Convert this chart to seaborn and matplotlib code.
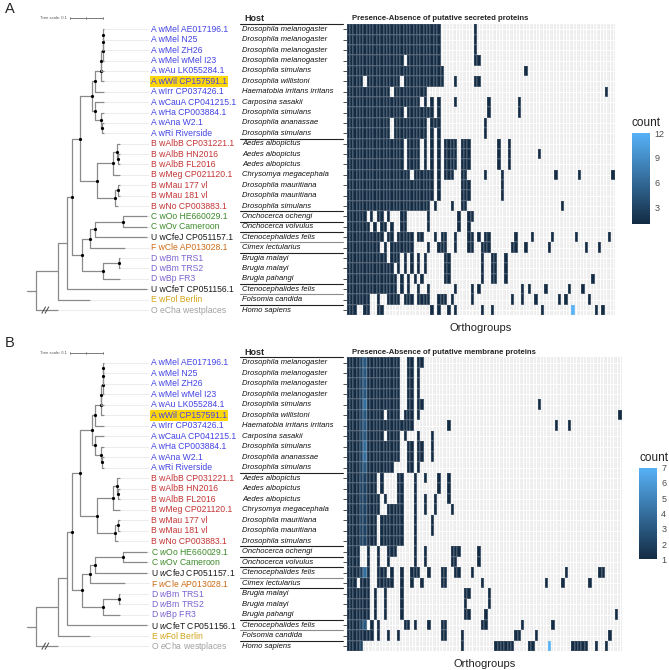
import numpy as np
import pandas as pd
import seaborn as sns
import matplotlib.pyplot as plt
from matplotlib.colors import LinearSegmentedColormap

# tree tips, top to bottom
strains = ['A wMel AE017196.1', 'A wMel N25', 'A wMel ZH26', 'A wMel wMel I23',
           'A wAu LK055284.1', 'A wWil CP157591.1', 'A wIrr CP037426.1',
           'A wCauA CP041215.1', 'A wHa CP003884.1', 'A wAna W2.1', 'A wRi Riverside',
           'B wAlbB CP031221.1', 'B wAlbB HN2016', 'B wAlbB FL2016', 'B wMeg CP021120.1',
           'B wMau 177 vl', 'B wMau 181 vl', 'B wNo CP003883.1',
           'C wOo HE660029.1', 'C wOv Cameroon', 'U wCfeJ CP051157.1', 'F wCle AP013028.1',
           'D wBm TRS1', 'D wBm TRS2', 'D wBp FR3', 'U wCfeT CP051156.1',
           'E wFol Berlin', 'O eCha westplaces']
hosts = ['Drosophila melanogaster'] * 4 + [
    'Drosophila simulans', 'Drosophila willistoni', 'Haematobia irritans irritans',
    'Carposina sasakii', 'Drosophila simulans', 'Drosophila ananassae', 'Drosophila simulans',
    'Aedes albopictus', 'Aedes albopictus', 'Aedes albopictus', 'Chrysomya megacephala',
    'Drosophila mauritiana', 'Drosophila mauritiana', 'Drosophila simulans',
    'Onchocerca ochengi', 'Onchocerca volvulus', 'Ctenocephalides felis', 'Cimex lectularius',
    'Brugia malayi', 'Brugia malayi', 'Brugia pahangi', 'Ctenocephalides felis',
    'Folsomia candida', 'Homo sapiens']
highlight = 'A wWil CP157591.1'
underlined = [10, 17, 18, 19, 20, 21, 24, 25, 26]
clade_colors = {'A': '#4343E4', 'B': '#C43434', 'C': '#3D8A2A', 'U': '#1a1a1a',
                'F': '#D06A14', 'D': '#7A62CF', 'E': '#D2A419', 'O': '#A0A0A0'}

# phylogeny (branch lengths in substitutions/site)
clade_A = ("((((((wMelAE:0.002,wMelN25:0.002):0.001,wMelZH26:0.003):0.001,wMelI23:0.004):0.004,"
           "wAu:0.008):0.002,wWil:0.010):0.018,wIrr:0.028):0.008,"
           "(wCauA:0.028,(wHa:0.009,(wAna:0.007,wRi:0.007):0.002):0.019):0.008")
clade_B = ("((wAlbB_CP:0.010,(wAlbB_HN:0.005,wAlbB_FL:0.005):0.005):0.0105,wMeg:0.0205):0.050,"
           "((wMau177:0.0055,wMau181:0.0055):0.010,wNo:0.009):0.055")
clade_CFU = "(((wOo:0.073,wOv:0.073):0.084,wCfeJ:0.156):0.0154,wCle:0.106)"
clade_D = "((wBmTRS1:0.0045,wBmTRS2:0.0045):0.0475,wBpFR3:0.052)"
newick = ("((((((" + clade_A + "):0.0364,(" + clade_B + "):0.0507):0.0243,(" + clade_CFU
          + ":0.0242," + clade_D + ":0.0646):0.0304):0.016,wCfeT:0.2425):0.0263,"
          "wFol:0.097):0.0667,eCha:0.0667);")

# presence/absence: column spans per strain, "=n" gives copy count
secreted_rows = [
    "0-27,38", "0-27,38", "0-27,38", "0-16,18-27,38-39", "0-28,53",
    "0-4,6-15,17-28,32,38-39", "0-12,14-23,77", "0-21,23,25,27,32,42,51",
    "0-16,18-25,27,42,51", "0-12,14-23,25-27,41", "0-12,14-23,25,27,41",
    "0-16,18-21,23,25,27,29-32,34-36,45,48", "0-16,18-21,23,25,27,29-32,34-36,45,48,57",
    "0-16,18-21,23,25,27,29-32,34-36,45,48", "0-18,20-25,27,29-31,34-35,41,46,62,69,79",
    "0-25,27,34-36,46", "0-25,27,34-36,46", "0-24,26,31,34-35,64",
    "0-5,7,9-10,12,16-17,24,33,36-37", "0-6,8,10-11,13,16-17,24,33,36",
    "0-10,12-13,15-19,21-22,26,28-29,32,36-37,39,41-42,50,55,61,68,78",
    "0-9,11,13-19,24,27-29,32,36-37,40-42,49-50,53,60,71,75",
    "0-11,13-15,17,19,21,23,29-30,40,43-44,47", "0-13,15,17,19,21,23,29-30,40,43-44,47",
    "0-14,16,18,20,22,29-30,40,43-44,47,73", "0-14,16,18,21,24,32,37,39,52,54,59,66,70",
    "0-6,9,12-15,17-19,21-24,27-29,31,37,49,52,56,63,65,72",
    "0-2,5-6,9-10,25,27,30,32,40,43,58,67=12,74,76"]
membrane_rows = [
    "0-3,4=2,5=3,6-15,18-19,21-22", "0-3,4=2,5=3,6-15,18-19,21",
    "0-3,4=2,5=3,6-15,18-19,21", "0-3,4=2,5=3,6-15,18-19,21",
    "0-3,4=2,5=4,6-15,18-19,21-22,57", "0-3,4=2,5=3,6-10,12-15,17-19,21,81",
    "0-3,4=2,5=3,6-19,30,62,66", "0-3,4=2,5=3,6-10,12-15,17,21,25",
    "0-3,4=2,5=4,6-15,18-19,21-22,25", "0-3,4=2,5=4,6-15,18-19,21-22,25",
    "0-3,4=2,5=3,6-13,18-19,21",
    "0-3,4-5=2,6-8,10,15-16,20,23,27,30", "0-3,4-5=2,6-8,10,15-16,20,27,30",
    "0-3,4-5=2,6-9,11,15-16,20,23,26,30", "0-3,4-5=2,6-9,12-16,20,23,26,31",
    "0-3,4-5=2,6-8,10-16,20,25", "0-3,4-5=2,6-8,10-16,20,25", "0-3,4-5=2,6-8,10-16,20",
    "0-3,6,9,12-14,20,23,31-33,39", "0-3,6,9,12,20,23,31-32,39",
    "0-3,4=2,5=4,6,9-11,13,16,19-21,24,28-29,32-33,37,65,75-76",
    "0-2,4-6,9-13,16,19,22,28-29,40,59,64,72",
    "0-6,8,11,16,35-36,42", "0-6,8,11,16,35,42", "0-6,8,11,16,35-36,41,80",
    "0-3,4=2,5=3,7,9,17-18,20,24,28-29,40-41,52,61",
    "0-7,9,12,15,28-29,34,50-51,56,78",
    "0-3,4=2,34,44-49,54-55,60=7,67-71,74,77"]


def to_matrix(rows, ncol):
    m = np.zeros((len(rows), ncol), dtype=int)
    for i, spec in enumerate(rows):
        for item in spec.split(','):
            rng, _, val = item.partition('=')
            a, _, b = rng.partition('-')
            m[i, int(a):int(b or a) + 1] = int(val or 1)
    return m


def parse_newick(s):
    pos = 0

    def node():
        nonlocal pos
        children = []
        if s[pos] == '(':
            pos += 1
            children.append(node())
            while s[pos] == ',':
                pos += 1
                children.append(node())
            pos += 1
        start = pos
        while s[pos] not in ',();':
            pos += 1
        name, _, bl = s[start:pos].partition(':')
        return {'name': name, 'len': float(bl) if bl else 0.0, 'children': children}
    return node()


def layout(n, depth, counter):
    n['x'] = depth + n['len']
    if n['children']:
        for c in n['children']:
            layout(c, n['x'], counter)
        n['y'] = np.mean([c['y'] for c in n['children']])
    else:
        n['y'] = counter[0] + 0.5
        counter[0] += 1


def walk(n):
    yield n
    for c in n['children']:
        yield from walk(c)


tree = parse_newick(newick)
layout(tree, 0.0, [0])

sns.set_theme(style='white')
plt.rcParams['font.family'] = ['Liberation Sans', 'DejaVu Sans']
plt.rcParams['mathtext.fontset'] = 'custom'
plt.rcParams['mathtext.it'] = 'Liberation Sans:italic'
plt.rcParams['mathtext.rm'] = 'Liberation Sans'

W, H = 669, 670
fig = plt.figure(figsize=(6.69, 6.70), dpi=100)
gg = LinearSegmentedColormap.from_list('gg', ['#132B43', '#56B1F7'])


def box(x0, y0, x1, y1):
    return [x0 / W, 1 - y1 / H, (x1 - x0) / W, (y1 - y0) / H]


panels = [
    dict(letter='A', letter_y=9, top=24.1, rowh=10.4, right=614.7, ncol=80,
         rows=secreted_rows, vmax=12, ticks=[3, 6, 9, 12], cbar=(632, 133.3, 650, 223.8),
         title='Presence-Absence of putative secreted proteins', italic=False, hdr=6.0),
    dict(letter='B', letter_y=342.7, top=357.4, rowh=10.5, right=621.7, ncol=82,
         rows=membrane_rows, vmax=7, ticks=list(range(1, 8)), cbar=(639, 467.7, 657, 559.3),
         title='Presence-Absence of putative membrane proteins', italic=True, hdr=4.5),
]

px = lambda t: 36 + 330 * t  # tree units -> pixel column of the tree area
branch_col = '#8a8a8a'

for p in panels:
    n = len(strains)
    bottom = p['top'] + n * p['rowh']
    hy = -p['hdr'] / p['rowh']

    # heatmap
    ax = fig.add_axes(box(346.7, p['top'], p['right'], bottom))
    m = to_matrix(p['rows'], p['ncol'])
    df = pd.DataFrame(m, index=strains, columns=[f'OG{j + 1}' for j in range(p['ncol'])])
    sns.heatmap(df, mask=df == 0, cmap=gg, vmin=1, vmax=p['vmax'], cbar=False, ax=ax,
                linewidths=0.3, linecolor=(1, 1, 1, 0.12),
                xticklabels=False, yticklabels=False)
    ax.set_facecolor('#EBEBEB')
    ax.set_xticks(np.arange(p['ncol']) + 0.5)
    ax.set_yticks(np.arange(n) + 0.5)
    ax.set_xticklabels([])
    ax.set_yticklabels([])
    ax.tick_params(axis='x', length=0)
    ax.tick_params(axis='y', left=True, length=2.6, width=0.6, color='#333333')
    ax.grid(True, color='white', linewidth=0.7)
    ax.set_axisbelow(True)
    for s in ax.spines.values():
        s.set_visible(False)
    ax.set_ylabel('')
    ax.set_xlabel('Orthogroups', fontsize=8, labelpad=2, color='#222222')
    ax.text(5.3 / (p['right'] - 346.7), 1 + p['hdr'] / (bottom - p['top']), p['title'],
            transform=ax.transAxes, fontsize=5.6, fontweight='bold', va='center')

    # colour bar
    x0, y0, x1, y1 = p['cbar']
    cax = fig.add_axes(box(x0, y0, x1, y1))
    sm = plt.cm.ScalarMappable(cmap=gg, norm=plt.Normalize(1, p['vmax']))
    cb = fig.colorbar(sm, cax=cax, ticks=p['ticks'])
    cb.outline.set_visible(False)
    cax.yaxis.set_ticks_position('both')
    cax.tick_params(length=3, width=0.8, color='white', direction='in',
                    labelsize=6.5, labelcolor='#4d4d4d', pad=3)
    cax.set_title('count', loc='left', fontsize=8.5, pad=5, color='#222222')

    # tree, tip labels and hosts
    tax = fig.add_axes(box(0, p['top'], 346.7, bottom))
    tax.set_xlim(0, 346.7)
    tax.set_ylim(n, 0)
    tax.axis('off')
    fig.text(5 / W, 1 - p['letter_y'] / H, p['letter'], fontsize=10.5, va='center')

    for nd in walk(tree):
        kids = nd['children']
        for c in kids:
            tax.plot([px(nd['x']), px(c['x'])], [c['y'], c['y']], color=branch_col, lw=0.9,
                     solid_capstyle='butt')
        if kids:
            ys = [c['y'] for c in kids]
            tax.plot([px(nd['x'])] * 2, [min(ys), max(ys)], color=branch_col, lw=0.9)
            if nd['x'] > 0.1:
                tax.plot(px(nd['x']), nd['y'], 'o', ms=2.3, color='black', mec='none')
        else:
            tax.plot([px(nd['x']) + 1, 149], [nd['y'], nd['y']], color='#d4d4d4', lw=0.6,
                     ls=(0, (1.2, 1.2)))
            if nd['name'] == 'eCha':
                xm = px(nd['x'] * 0.35)
                for dx in (0, 3.2):
                    tax.plot([xm + dx - 1.8, xm + dx + 1.8], [nd['y'] + 0.3, nd['y'] - 0.3],
                             color='#444444', lw=0.7)
    tax.plot([px(-0.027), px(0)], [tree['y']] * 2, color=branch_col, lw=0.9)

    # tree scale
    tax.plot([70, 70 + 330 * 0.1], [hy, hy], color='#666666', lw=0.6, clip_on=False)
    for xt in (70, 70 + 330 * 0.05, 70 + 330 * 0.1):
        tax.plot([xt, xt], [hy - 0.12, hy + 0.12], color='#666666', lw=0.5, clip_on=False)
    tax.text(67, hy, 'Tree scale: 0.1', fontsize=3, color='#555555', ha='right', va='center')

    for i, (lab, host) in enumerate(zip(strains, hosts)):
        txt = lab
        if p['italic'] and lab[0] in 'CUFDEO':
            clade, rest = lab.split(' ', 1)
            txt = f'{clade} $\\mathit{{{rest[0]}}}${rest[1:]}'
        kw = {}
        if lab == highlight:
            kw['bbox'] = dict(boxstyle='square,pad=0.12', fc='#FFD60A', ec='none')
        tax.text(151, i + 0.5, txt, fontsize=6.2, color=clade_colors[lab[0]],
                 va='center', **kw)
        tax.text(242, i + 0.5, host, fontsize=5.5, style='italic', va='center',
                 color='#111111')

    tax.text(244, hy, 'Host', fontsize=6.5, fontweight='bold', va='center')
    tax.plot([240, 342.7], [0, 0], color='#222222', lw=0.8, clip_on=False)
    for r in underlined:
        col = '#8c8c8c' if hosts[r] == 'Ctenocephalides felis' else '#222222'
        tax.plot([240, 342.7], [r + 1, r + 1], color=col, lw=0.8, clip_on=False)

fig.savefig('out.png', dpi=100, facecolor='white')
